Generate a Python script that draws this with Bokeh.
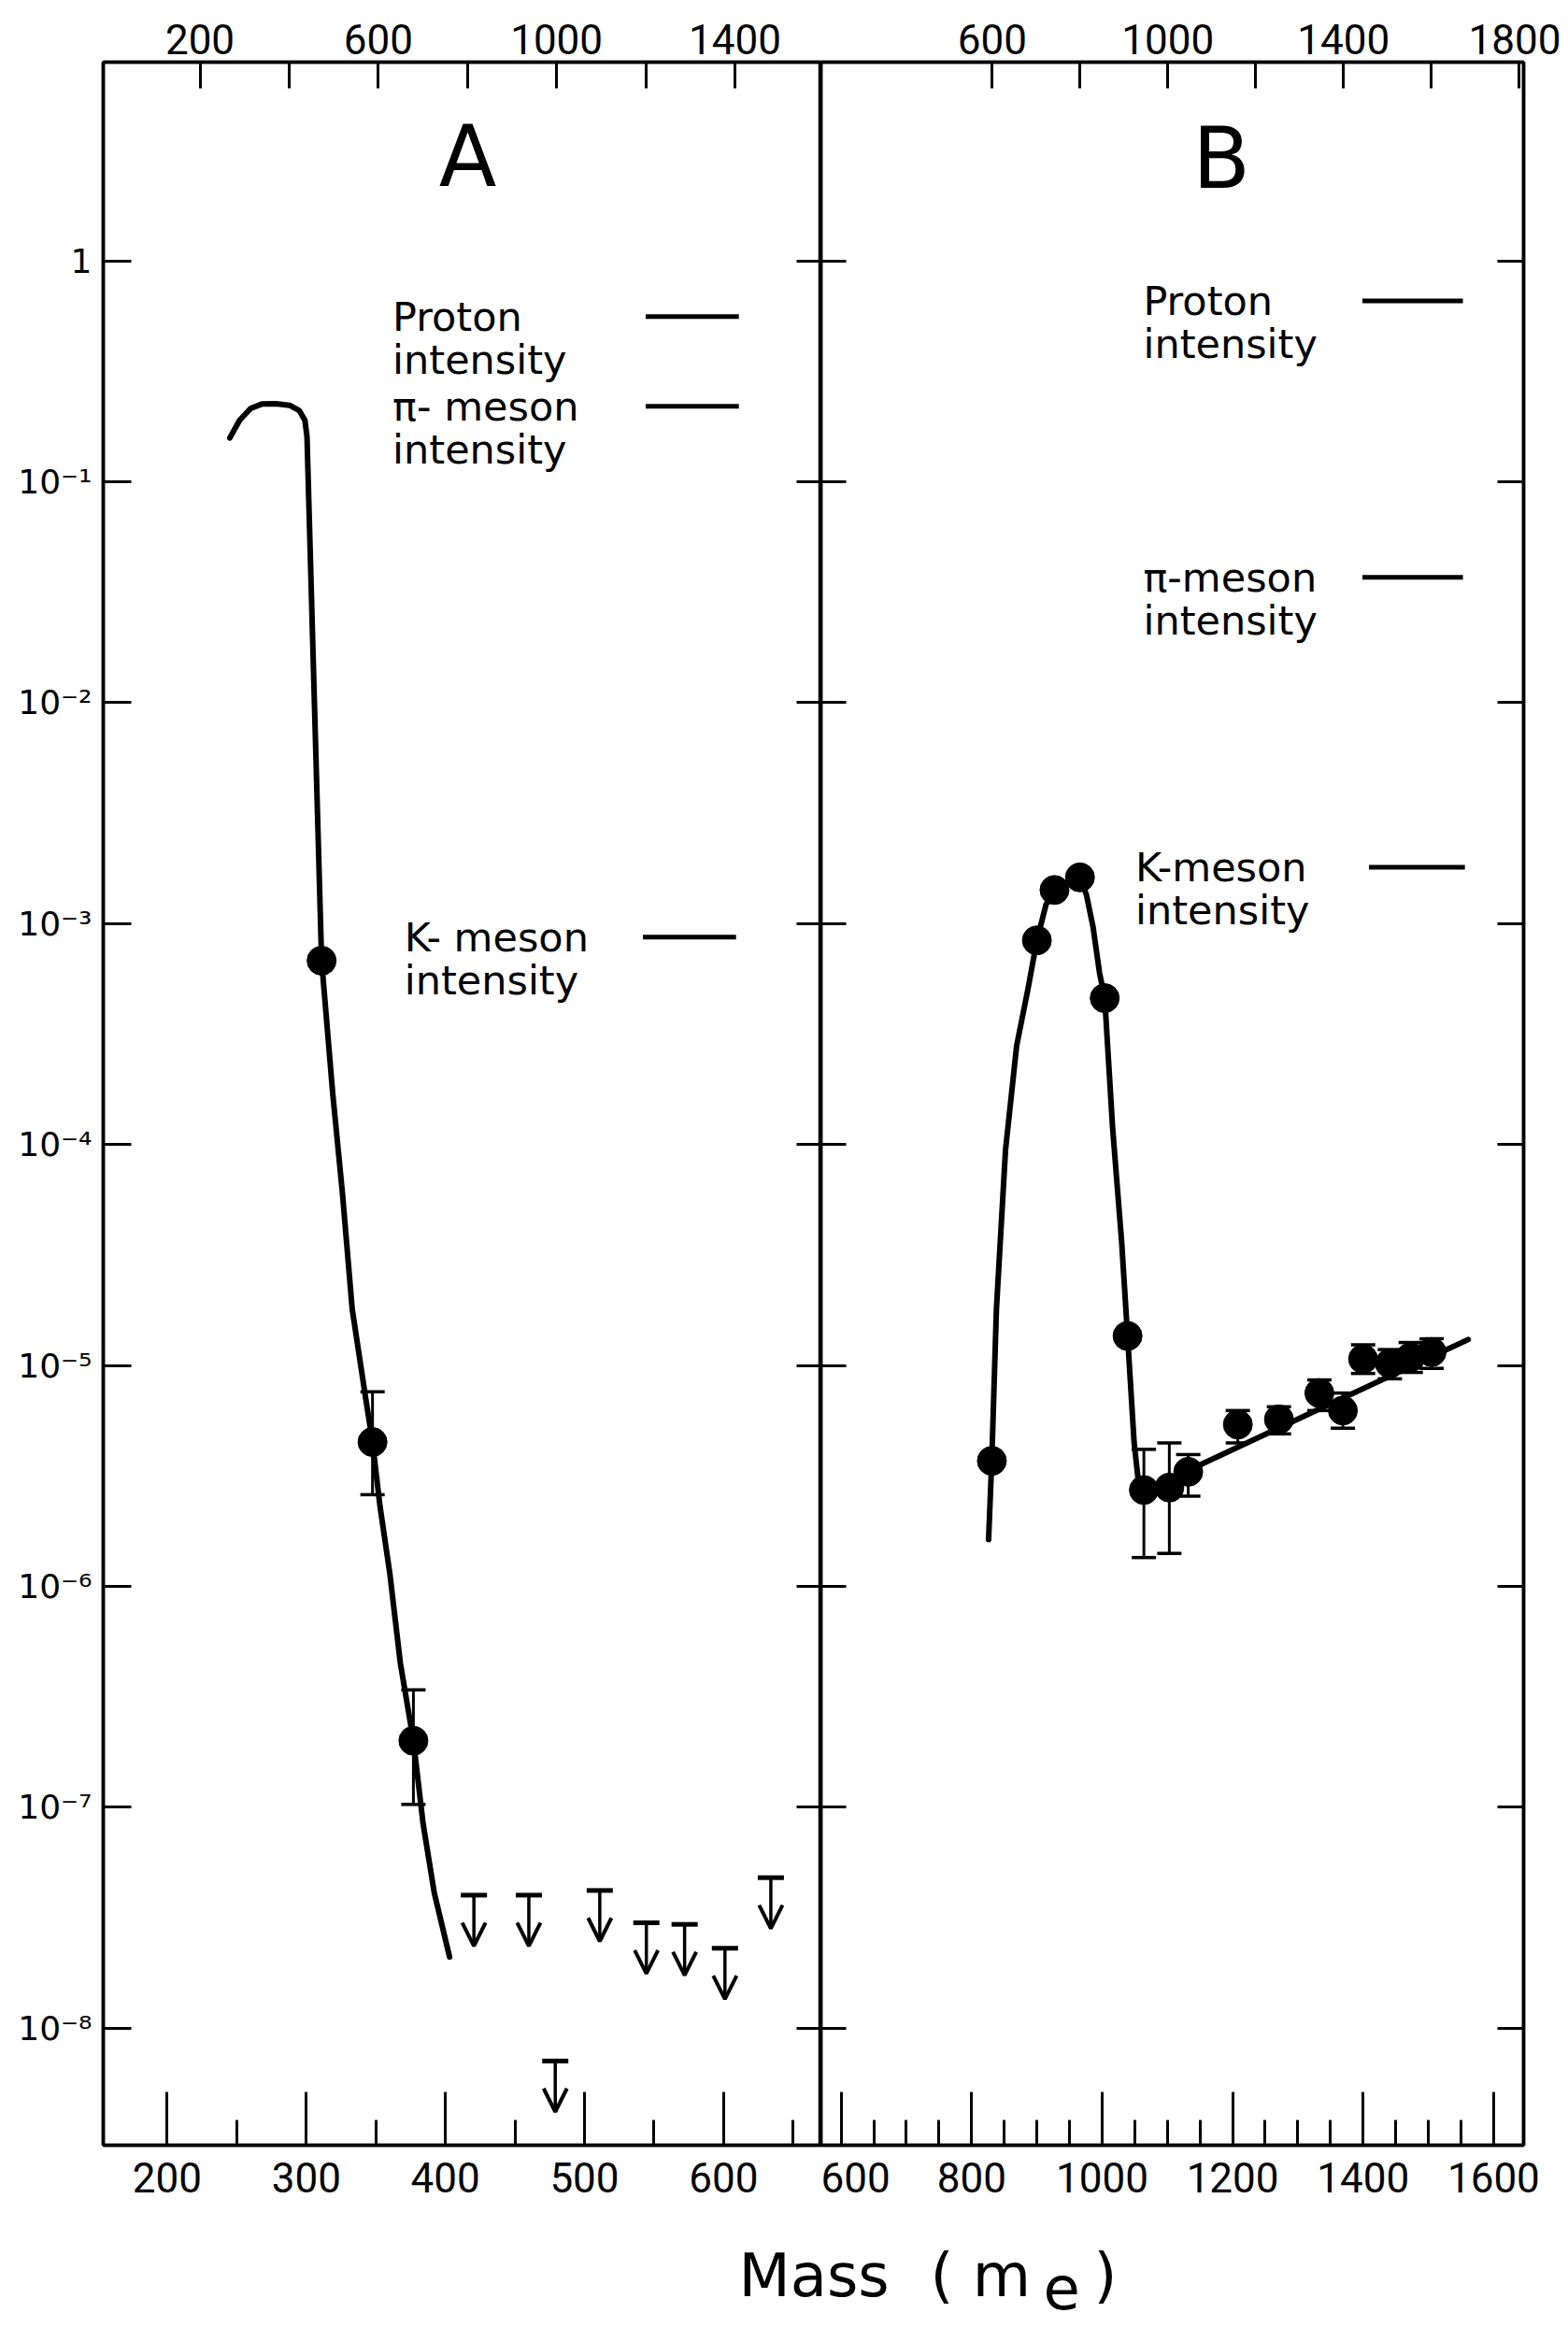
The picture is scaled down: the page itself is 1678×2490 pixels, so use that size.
from bokeh.plotting import figure
from bokeh.models import (Range1d, LinearAxis, LogAxis, FixedTicker, CustomJSTickFormatter,
                          ColumnDataSource, Whisker, TeeHead, Arrow, OpenHead)
from bokeh.layouts import row, column
from bokeh.core.properties import value
from bokeh.embed import file_html
from bokeh.resources import INLINE

# ---------------- data ----------------
# Panel A : intensity vs mass (m_e)
A_CURVE_MASS = [245, 252, 260, 268, 278, 288, 295, 299, 300.5, 311, 319, 326, 333, 343,
                347.6, 353, 360, 367.6, 377, 384, 392, 403]
A_CURVE_INT = [0.158, 0.19, 0.215, 0.225, 0.226, 0.222, 0.21, 0.19, 0.16, 6.8e-4, 1.7e-4,
               6e-5, 1.8e-5, 6.9e-6, 4.5e-6, 2.3e-6, 1.15e-6, 4.5e-7, 2.0e-7, 8.4e-8, 4.1e-8, 2.1e-8]
A_DOT_MASS = [311, 347.6, 377]
A_DOT_INT = [6.8e-4, 4.5e-6, 2.0e-7]
A_ERR_MASS = [347.6, 377]
A_ERR_LO = [2.6e-6, 1.03e-7]
A_ERR_HI = [7.6e-6, 3.4e-7]
A_LIMIT_MASS = [420.5, 460, 511, 544.5, 572, 601, 634, 479]
A_LIMIT_INT = [4.0e-8, 4.0e-8, 4.2e-8, 3.0e-8, 2.95e-8, 2.3e-8, 4.8e-8, 7.1e-9]

# Panel B
B_CURVE_MASS = [826, 831, 838, 852, 869, 886, 900, 914, 927, 947, 966, 976, 986, 996, 1004,
                1016, 1030, 1039, 1049, 1056, 1064, 1100, 1132, 1150, 1561]
B_CURVE_INT = [1.63e-6, 3.8e-6, 1.8e-5, 9.5e-5, 2.8e-4, 5.0e-4, 8.4e-4, 1.22e-3, 1.42e-3,
               1.55e-3, 1.62e-3, 1.35e-3, 9.7e-4, 6.0e-4, 4.6e-4, 1.2e-4, 3.6e-5, 1.36e-5,
               4.5e-6, 2.9e-6, 2.75e-6, 2.85e-6, 3.3e-6, 3.55e-6, 1.31e-5]
B_DOT_MASS = [831, 900, 927, 966, 1004, 1039]
B_DOT_INT = [3.7e-6, 8.4e-4, 1.42e-3, 1.62e-3, 4.6e-4, 1.36e-5]
B_ERR_MASS = [1064, 1103, 1132, 1208, 1271, 1333, 1369, 1400, 1441, 1473, 1505]
B_ERR_INT = [2.73e-6, 2.8e-6, 3.3e-6, 5.4e-6, 5.7e-6, 7.5e-6, 6.25e-6, 1.07e-5, 1.02e-5, 1.09e-5, 1.15e-5]
B_ERR_LO = [1.35e-6, 1.41e-6, 2.56e-6, 4.46e-6, 4.9e-6, 6.25e-6, 5.2e-6, 9.2e-6, 8.7e-6, 9.3e-6, 9.7e-6]
B_ERR_HI = [4.17e-6, 4.46e-6, 3.95e-6, 6.25e-6, 6.5e-6, 8.6e-6, 7.5e-6, 1.24e-5, 1.18e-5, 1.27e-5, 1.32e-5]

# intensity reference levels (legend marks)
A_LEVEL_NAMES = ["Proton", "π- meson", "K- meson"]
A_LEVELS = [0.56, 0.22, 8.7e-4]
B_LEVEL_NAMES = ["Proton", "π-meson", "K-meson"]
B_LEVELS = [0.66, 0.037, 1.8e-3]
LEVEL_SECOND_LINE = "intensity"

# ticks
Y_TICKS = [1, 1e-1, 1e-2, 1e-3, 1e-4, 1e-5, 1e-6, 1e-7, 1e-8]
Y_TICK_LABELS = ["1", "10⁻¹", "10⁻²", "10⁻³", "10⁻⁴", "10⁻⁵", "10⁻⁶", "10⁻⁷", "10⁻⁸"]
A_BOTTOM_TICKS = [200, 300, 400, 500, 600]
A_BOTTOM_MINOR = [250, 350, 450, 550, 650]
A_TOP_TICKS = [200, 600, 1000, 1400]
A_TOP_MINOR = [400, 800, 1200]
B_BOTTOM_TICKS = [600, 800, 1000, 1200, 1400, 1600]
B_BOTTOM_MINOR = [650, 700, 750, 850, 900, 950, 1050, 1100, 1150, 1250, 1300, 1350,
                  1450, 1500, 1550]
B_TOP_TICKS = [600, 1000, 1400, 1800]
B_TOP_MINOR = [800, 1200, 1600]

# ---------------- layout constants ----------------
TOP = 66
FRAME_H = 2229
BOTTOM = 70
ROW_H = TOP + FRAME_H + BOTTOM
Y_RANGE = (10 ** -8.53, 10 ** 0.90)
TICK_FONT = "Roboto"
TEXT_FONT = "DejaVu Sans"
LW = 3.5


def style_axis(ax, tick_in, minor_in=0, labels=True, font_size="42px", standoff=4, font=TICK_FONT):
    ax.axis_line_width = LW
    ax.axis_line_color = "black"
    ax.major_tick_in = tick_in
    ax.major_tick_out = 0
    ax.major_tick_line_width = 3
    ax.major_tick_line_color = "black"
    if minor_in:
        ax.minor_tick_in = minor_in
        ax.minor_tick_out = 0
        ax.minor_tick_line_width = 3
        ax.minor_tick_line_color = "black"
    else:
        ax.minor_tick_line_color = None
    if labels:
        ax.major_label_text_font = font
        ax.major_label_text_font_size = font_size
        ax.major_label_text_color = "black"
        ax.major_label_standoff = standoff
    else:
        ax.major_label_text_font_size = "0px"
        ax.major_label_standoff = 0
        ax.formatter = CustomJSTickFormatter(code="return '';")


def panel(width, x_rng, top_rng, min_left, min_right):
    p = figure(width=width, height=ROW_H, x_range=Range1d(*x_rng), y_range=Range1d(*Y_RANGE),
               y_axis_type="log", x_axis_location=None, y_axis_location=None,
               output_backend="svg", toolbar_location=None,
               min_border_left=min_left, min_border_right=min_right,
               min_border_top=TOP, min_border_bottom=BOTTOM)
    p.extra_x_ranges = {"top": Range1d(*top_rng)}
    p.grid.visible = False
    p.outline_line_color = "black"
    p.outline_line_width = LW
    p.background_fill_color = "white"
    p.border_fill_color = "white"
    return p


def y_axis(tick_in, labels):
    ax = LogAxis(ticker=FixedTicker(ticks=Y_TICKS, minor_ticks=[]))
    style_axis(ax, tick_in, labels=labels, font_size="36px", standoff=12, font=TEXT_FONT)
    if labels:
        ax.formatter = CustomJSTickFormatter(
            args=dict(labels=Y_TICK_LABELS),
            code="const i = Math.round(-Math.log10(tick)); return (i >= 0 && i < labels.length) ? labels[i] : '';")
    return ax


def add_data(p, curve_x, curve_y, dot_x, dot_y, err_x, err_y, err_lo, err_hi):
    p.line(curve_x, curve_y, line_width=6, line_color="black", line_join="round", line_cap="round")
    p.scatter(dot_x, dot_y, size=31, color="black")
    if err_y is not None:
        p.scatter(err_x, err_y, size=31, color="black")
    src = ColumnDataSource(dict(base=err_x, lower=err_lo, upper=err_hi))
    w = Whisker(source=src, base="base", lower="lower", upper="upper", line_width=3,
                line_color="black",
                upper_head=TeeHead(size=26, line_width=3.5, line_color="black"),
                lower_head=TeeHead(size=26, line_width=3.5, line_color="black"))
    p.add_layout(w)


def add_levels(p, names, levels, text_x, text_x_k, line_x0, line_x1, line_x0_k, line_x1_k):
    xs = [text_x, text_x, text_x_k]
    p.text(xs, levels, text=names, text_font=value(TEXT_FONT), text_font_size=value("43px"),
           text_baseline="middle", text_align="left", text_color="black")
    p.text(xs, levels, text=[LEVEL_SECOND_LINE] * 3, text_font=value(TEXT_FONT),
           text_font_size=value("43px"), text_baseline="middle", text_align="left",
           text_color="black", y_offset=46)
    p.segment([line_x0, line_x0, line_x0_k], levels, [line_x1, line_x1, line_x1_k], levels,
              line_width=5, line_color="black")


# ---------------- panel A ----------------
pA = panel(878, (154, 670), (-17, 1593), 110, 0)
ax = LinearAxis(ticker=FixedTicker(ticks=A_BOTTOM_TICKS, minor_ticks=A_BOTTOM_MINOR))
style_axis(ax, 57, 27, font_size="44px", standoff=18)
pA.add_layout(ax, "below")
ax = LinearAxis(x_range_name="top", ticker=FixedTicker(ticks=A_TOP_TICKS, minor_ticks=A_TOP_MINOR))
style_axis(ax, 28, 28, font_size="44px", standoff=9)
pA.add_layout(ax, "above")
pA.add_layout(y_axis(30, True), "left")
pA.add_layout(y_axis(26, False), "right")

add_data(pA, A_CURVE_MASS, A_CURVE_INT, A_DOT_MASS, A_DOT_INT, A_ERR_MASS, None, A_ERR_LO, A_ERR_HI)

lim_tip = [v * 10 ** -0.23 for v in A_LIMIT_INT]
lsrc = ColumnDataSource(dict(x=A_LIMIT_MASS, y=A_LIMIT_INT, tip=lim_tip))
pA.add_layout(Arrow(source=lsrc, x_start="x", y_start="y", x_end="x", y_end="tip",
                    line_width=3.5, line_color="black",
                    end=OpenHead(size=25, line_width=4, line_color="black")))
pA.scatter("x", "y", source=lsrc, marker="dash", size=28, line_width=5, color="black")

add_levels(pA, A_LEVEL_NAMES, A_LEVELS, 362, 370.5, 544, 611, 542, 609)
pA.text([416], [2.96], text=["A"], text_font=value(TEXT_FONT), text_font_size=value("90px"),
        text_align="center", text_baseline="middle", text_color="black")

# ---------------- panel B ----------------
pB = panel(792, (569, 1646), (210, 1810), 0, 40)
ax = LinearAxis(ticker=FixedTicker(ticks=B_BOTTOM_TICKS, minor_ticks=B_BOTTOM_MINOR))
style_axis(ax, 57, 27, font_size="44px", standoff=18)
pB.add_layout(ax, "below")
ax = LinearAxis(x_range_name="top", ticker=FixedTicker(ticks=B_TOP_TICKS, minor_ticks=B_TOP_MINOR))
style_axis(ax, 28, 28, font_size="44px", standoff=9)
pB.add_layout(ax, "above")
pB.add_layout(y_axis(27, False), "left")
pB.add_layout(y_axis(28, False), "right")

add_data(pB, B_CURVE_MASS, B_CURVE_INT, B_DOT_MASS, B_DOT_INT, B_ERR_MASS, B_ERR_INT, B_ERR_LO, B_ERR_HI)
add_levels(pB, B_LEVEL_NAMES, B_LEVELS, 1063, 1051, 1399, 1553, 1409, 1556)
pB.text([1183], [2.9], text=["B"], text_font=value(TEXT_FONT), text_font_size=value("90px"),
        text_align="center", text_baseline="middle", text_color="black")

# ---------------- common x-axis title ----------------
LBL_H = 125
pL = figure(width=1670, height=LBL_H, x_range=Range1d(0, 1670), y_range=Range1d(0, LBL_H),
            output_backend="svg", toolbar_location=None, min_border=0,
            x_axis_location=None, y_axis_location=None)
pL.grid.visible = False
pL.outline_line_color = None
pL.text([790, 995, 1170], [56, 56, 56], text=["Mass", "( m", ")"], text_font=value(TEXT_FONT),
        text_font_size=value("64px"), text_baseline="alphabetic", text_align="left",
        text_color="black")
pL.text([1116], [43], text=["e"], text_font=value(TEXT_FONT),
        text_font_size=value("64px"), text_baseline="alphabetic", text_align="left",
        text_color="black")

layout = column(row(pA, pB), pL)
open("out.html", "w").write(file_html(layout, INLINE))
